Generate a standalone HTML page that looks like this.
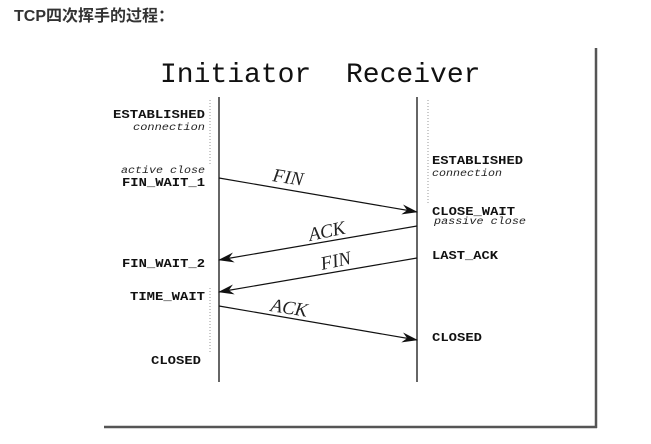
<!DOCTYPE html>
<html><head><meta charset="utf-8"><style>
body{margin:0;width:651px;height:444px;background:#fff;overflow:hidden}
.h{position:absolute;left:14px;top:2px;font:bold 16px "Liberation Sans","Noto Sans CJK SC",sans-serif;color:#333}
svg{position:absolute;left:0;top:0}
.m{font-family:"Liberation Mono",monospace;font-weight:bold;font-size:12px;fill:#111}
.i{font-family:"Liberation Mono",monospace;font-style:italic;font-size:10px;fill:#222}
.t{font-family:"Liberation Mono",monospace;font-size:28px;fill:#111}
.l{font-family:"Liberation Serif",serif;font-style:italic;font-size:19px;fill:#222}
</style></head><body>
<div class="h">TCP四次挥手的过程：</div>
<svg width="651" height="444">
<defs><marker id="a" markerWidth="16" markerHeight="10" refX="15" refY="5" orient="auto" markerUnits="userSpaceOnUse"><path d="M0,0 L16,5 L0,10 L5,5 Z" fill="#111"/></marker></defs>
<line x1="596" y1="48" x2="596" y2="428" stroke="#555" stroke-width="2.5"/>
<line x1="104" y1="427" x2="597" y2="427" stroke="#555" stroke-width="2.5"/>
<text class="t" x="160" y="82">Initiator</text>
<text class="t" x="346" y="82">Receiver</text>
<line x1="219" y1="97" x2="219" y2="382" stroke="#333" stroke-width="1.5"/>
<line x1="417" y1="97" x2="417" y2="382" stroke="#333" stroke-width="1.5"/>
<line x1="210" y1="100" x2="210" y2="165" stroke="#999" stroke-dasharray="1,2"/>
<line x1="428" y1="100" x2="428" y2="205" stroke="#999" stroke-dasharray="1,2"/>
<line x1="210" y1="288" x2="210" y2="352" stroke="#999" stroke-dasharray="1,2"/>
<line x1="219" y1="178" x2="417" y2="212" stroke="#111" stroke-width="1.2" marker-end="url(#a)"/>
<line x1="417" y1="226" x2="219" y2="260" stroke="#111" stroke-width="1.2" marker-end="url(#a)"/>
<line x1="417" y1="258" x2="219" y2="292" stroke="#111" stroke-width="1.2" marker-end="url(#a)"/>
<line x1="219" y1="306" x2="417" y2="340" stroke="#111" stroke-width="1.2" marker-end="url(#a)"/>
<text class="l" x="272" y="181" transform="rotate(9 272 181)">FIN</text>
<text class="l" x="310" y="241" transform="rotate(-12 310 241)">ACK</text>
<text class="l" x="322" y="270" transform="rotate(-12 322 270)">FIN</text>
<text class="l" x="270" y="311" transform="rotate(9 270 311)">ACK</text>
<text class="m" x="113" y="118" textLength="92" lengthAdjust="spacingAndGlyphs">ESTABLISHED</text>
<text class="i" x="133" y="130" textLength="72" lengthAdjust="spacingAndGlyphs">connection</text>
<text class="i" x="121" y="173" textLength="84" lengthAdjust="spacingAndGlyphs">active close</text>
<text class="m" x="122" y="186" textLength="83" lengthAdjust="spacingAndGlyphs">FIN_WAIT_1</text>
<text class="m" x="122" y="267" textLength="83" lengthAdjust="spacingAndGlyphs">FIN_WAIT_2</text>
<text class="m" x="130" y="300" textLength="75" lengthAdjust="spacingAndGlyphs">TIME_WAIT</text>
<text class="m" x="151" y="364" textLength="50" lengthAdjust="spacingAndGlyphs">CLOSED</text>
<text class="m" x="432" y="164" textLength="91" lengthAdjust="spacingAndGlyphs">ESTABLISHED</text>
<text class="i" x="432" y="176" textLength="70" lengthAdjust="spacingAndGlyphs">connection</text>
<text class="m" x="432" y="215" textLength="83" lengthAdjust="spacingAndGlyphs">CLOSE_WAIT</text>
<text class="i" x="434" y="224" textLength="92" lengthAdjust="spacingAndGlyphs">passive close</text>
<text class="m" x="432" y="259" textLength="66" lengthAdjust="spacingAndGlyphs">LAST_ACK</text>
<text class="m" x="432" y="341" textLength="50" lengthAdjust="spacingAndGlyphs">CLOSED</text>
</svg>
</body></html>
